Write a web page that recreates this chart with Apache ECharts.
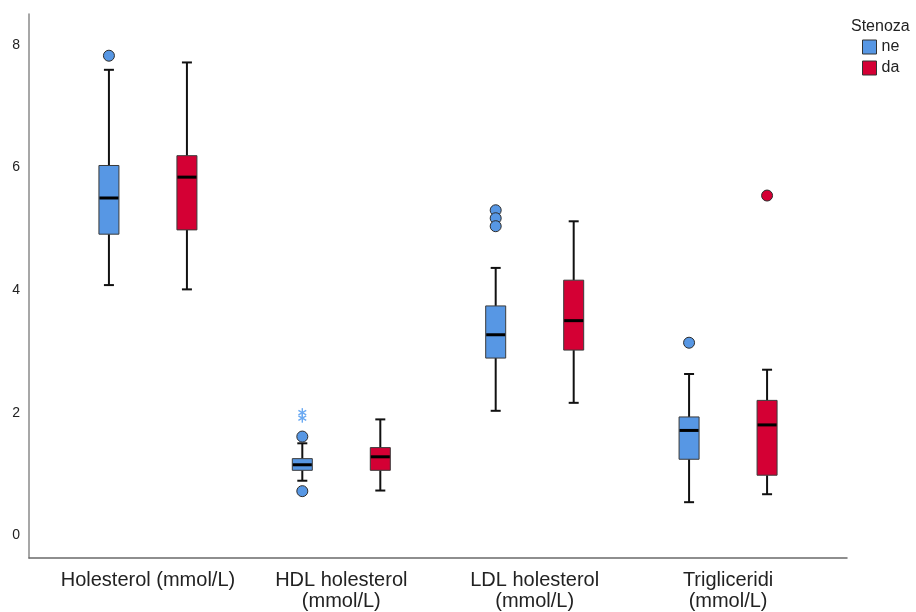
<!DOCTYPE html>
<html>
<head>
<meta charset="utf-8">
<title>Stenoza – lipidi</title>
<script src="https://cdn.jsdelivr.net/npm/echarts@6/dist/echarts.min.js"></script>
<style>
  html, body { margin: 0; padding: 0; background: #fff; }
  #chart { width: 916px; height: 612px; }
</style>
</head>
<body>
<div id="chart"></div>
<script>
// Categories on the x axis
const categories = [
  'Holesterol (mmol/L)',
  'HDL holesterol\n(mmol/L)',
  'LDL holesterol\n(mmol/L)',
  'Trigliceridi\n(mmol/L)'
];
const groupNames = ['ne', 'da'];
const yTicks = [0, 2, 4, 6, 8];

// Box summaries per category: [lower whisker, Q1, median, Q3, upper whisker]
const neBoxes = [
  [4.08, 4.91, 5.50, 6.03, 7.59],
  [0.89, 1.06, 1.15, 1.25, 1.50],
  [2.03, 2.89, 3.27, 3.74, 4.36],
  [0.54, 1.24, 1.71, 1.93, 2.63]
];
const daBoxes = [
  [4.01, 4.98, 5.84, 6.19, 7.71],
  [0.73, 1.06, 1.28, 1.43, 1.89],
  [2.16, 3.02, 3.50, 4.16, 5.12],
  [0.67, 0.98, 1.80, 2.20, 2.70]
];

// Outliers: [category index, value]
const neOutliers = [[0, 7.82], [1, 1.61], [1, 0.72], [2, 5.30], [2, 5.17], [2, 5.04], [3, 3.14]];
const neExtremes = [[1, 2.00], [1, 1.91]];
const daOutliers = [[3, 5.54]];

const colors = { ne: '#5797e4', da: '#d40034' };
const boxEdge = '#3a3a3a';
const GROUP_OFFSET = 39;   // px from category centre to each box centre
const BOX_W = 20;
const CAP_W = 10;

function boxRenderer(offset, fill) {
  return function (params, api) {
    const cat = api.value(0);
    const pLow = api.coord([cat, api.value(1)]);
    const pQ1 = api.coord([cat, api.value(2)]);
    const pMed = api.coord([cat, api.value(3)]);
    const pQ3 = api.coord([cat, api.value(4)]);
    const pHigh = api.coord([cat, api.value(5)]);
    const x = pLow[0] + offset;
    const stroke = { stroke: '#111', lineWidth: 2 };
    return {
      type: 'group',
      children: [
        { type: 'line', shape: { x1: x, y1: pQ1[1], x2: x, y2: pLow[1] }, style: stroke },
        { type: 'line', shape: { x1: x, y1: pQ3[1], x2: x, y2: pHigh[1] }, style: stroke },
        { type: 'line', shape: { x1: x - CAP_W / 2, y1: pLow[1], x2: x + CAP_W / 2, y2: pLow[1] }, style: stroke },
        { type: 'line', shape: { x1: x - CAP_W / 2, y1: pHigh[1], x2: x + CAP_W / 2, y2: pHigh[1] }, style: stroke },
        {
          type: 'rect',
          shape: { x: x - BOX_W / 2, y: pQ3[1], width: BOX_W, height: pQ1[1] - pQ3[1] },
          style: { fill: fill, stroke: boxEdge, lineWidth: 1 }
        },
        {
          type: 'line',
          shape: { x1: x - BOX_W / 2 + 0.5, y1: pMed[1], x2: x + BOX_W / 2 - 0.5, y2: pMed[1] },
          style: { stroke: '#000', lineWidth: 3 }
        }
      ]
    };
  };
}

function asteriskRenderer(offset, color) {
  return function (params, api) {
    const p = api.coord([api.value(0), api.value(1)]);
    const x = p[0] + offset, y = p[1];
    const r = 4.5;
    const s = { stroke: color, lineWidth: 1.4 };
    const dx = r * Math.cos(Math.PI / 6), dy = r * Math.sin(Math.PI / 6);
    return {
      type: 'group',
      children: [
        { type: 'line', shape: { x1: x, y1: y - r, x2: x, y2: y + r }, style: s },
        { type: 'line', shape: { x1: x - dx, y1: y - dy, x2: x + dx, y2: y + dy }, style: s },
        { type: 'line', shape: { x1: x - dx, y1: y + dy, x2: x + dx, y2: y - dy }, style: s }
      ]
    };
  };
}

const toBoxData = boxes => boxes.map((b, i) => [i].concat(b));

const chart = echarts.init(document.getElementById('chart'), null, { renderer: 'canvas' });

chart.setOption({
  animation: false,
  backgroundColor: '#ffffff',
  textStyle: { fontFamily: 'Liberation Sans, Arial, sans-serif' },
  title: {
    text: 'Stenoza',
    left: 851,
    top: 19,
    padding: 0,
    textStyle: { fontSize: 16, fontWeight: 'normal', color: '#222' }
  },
  legend: {
    orient: 'vertical',
    left: 862,
    top: 39,
    padding: 0,
    itemWidth: 14,
    itemHeight: 14,
    itemGap: 5,
    icon: 'rect',
    textStyle: { fontSize: 16, color: '#222' },
    data: groupNames.map(n => ({
      name: n,
      itemStyle: { color: colors[n], borderColor: '#333', borderWidth: 1 }
    }))
  },
  grid: { left: 29, right: 69, top: 14, bottom: 51, containLabel: false },
  xAxis: {
    type: 'value',
    min: -0.615,
    max: 3.615,
    axisLine: { show: true, onZero: false, lineStyle: { color: '#6a6a6a', width: 1.5 } },
    axisTick: { show: false },
    splitLine: { show: false },
    axisLabel: {
      customValues: [0, 1, 2, 3],
      formatter: v => categories[Math.round(v)],
      fontSize: 20,
      lineHeight: 21,
      color: '#222',
      margin: 12
    }
  },
  yAxis: {
    type: 'value',
    min: -0.37,
    max: 8.5,
    axisLine: { show: true, onZero: false, lineStyle: { color: '#8a8a8a', width: 1.5 } },
    axisTick: { show: false },
    splitLine: { show: false },
    axisLabel: {
      customValues: yTicks,
      fontSize: 14,
      color: '#222',
      margin: 9
    }
  },
  series: [
    {
      name: 'ne',
      type: 'custom',
      renderItem: boxRenderer(-GROUP_OFFSET, colors.ne),
      itemStyle: { color: colors.ne },
      encode: { x: 0, y: [1, 2, 3, 4, 5] },
      data: toBoxData(neBoxes),
      z: 2
    },
    {
      name: 'da',
      type: 'custom',
      renderItem: boxRenderer(GROUP_OFFSET, colors.da),
      itemStyle: { color: colors.da },
      encode: { x: 0, y: [1, 2, 3, 4, 5] },
      data: toBoxData(daBoxes),
      z: 2
    },
    {
      name: 'ne',
      type: 'scatter',
      symbol: 'circle',
      symbolSize: 11,
      symbolOffset: [-GROUP_OFFSET, 0],
      itemStyle: { color: colors.ne, borderColor: '#2d2d2d', borderWidth: 1, opacity: 1 },
      data: neOutliers,
      z: 3
    },
    {
      name: 'ne',
      type: 'custom',
      renderItem: asteriskRenderer(-GROUP_OFFSET, '#6aa9f2'),
      itemStyle: { color: colors.ne },
      data: neExtremes,
      z: 3
    },
    {
      name: 'da',
      type: 'scatter',
      symbol: 'circle',
      symbolSize: 11,
      symbolOffset: [GROUP_OFFSET, 0],
      itemStyle: { color: colors.da, borderColor: '#2d2d2d', borderWidth: 1, opacity: 1 },
      data: daOutliers,
      z: 3
    }
  ]
});
</script>
</body>
</html>
